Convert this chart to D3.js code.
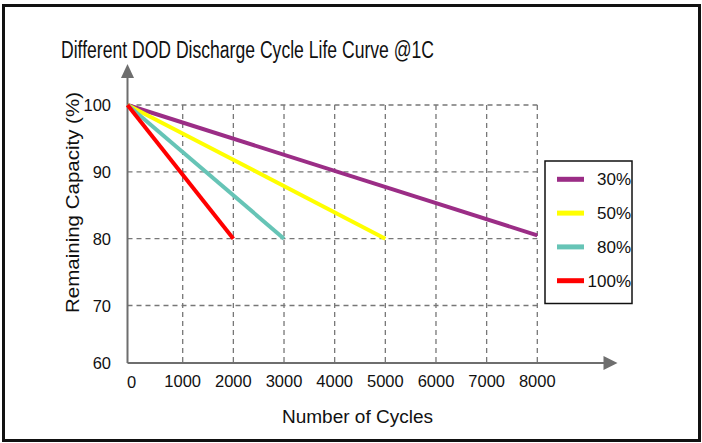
<!DOCTYPE html>
<html>
<head>
  <meta charset="utf-8">
  <title>DOD Cycle Life</title>
  <script src="https://d3js.org/d3.v7.min.js"></script>
  <style>
    body { margin: 0; background: #fff; }
    text { font-family: "Liberation Sans", Arial, sans-serif; fill: #111; }
  </style>
</head>
<body>

<svg></svg>

<script>

var xTicks = [0, 1000, 2000, 3000, 4000, 5000, 6000, 7000, 8000]
var yTicks = [60, 70, 80, 90, 100]

var dod = ['30%', '50%', '80%', '100%']
var colors = ['#9b2d86', '#ffff00', '#66c4b6', '#ff0000']

// [cycles, capacity]
var line30 = [[0, 100], [8000, 80.5]]
var line50 = [[0, 100], [5000, 80]]
var line80 = [[0, 100], [3000, 80]]
var line100 = [[0, 100], [2000, 80]]

var series = [line30, line50, line80, line100]

var width = 702, height = 443

var svg = d3.select('svg')
  .attr('width', width)
  .attr('height', height)

// outer frame
svg.append('rect')
  .attr('x', 3.5).attr('y', 5.5)
  .attr('width', 696).attr('height', 435)
  .attr('fill', 'none')
  .attr('stroke', '#111')
  .attr('stroke-width', 3)

// the picture's axes are not quite even, so piecewise scales
var x = d3.scaleLinear()
  .domain([0, 1000, 8000])
  .range([127.5, 182.7, 537.3])

var y = d3.scaleLinear()
  .domain([60, 70, 100])
  .range([363, 305.5, 105])

var grid = svg.append('g')
  .attr('stroke', '#777')
  .attr('stroke-width', 1.3)
  .attr('stroke-dasharray', '5,4')

grid.selectAll('.hgrid')
  .data(yTicks.filter((d) => d > 60))
  .enter()
  .append('line')
  .attr('x1', x(0)).attr('x2', x(8000))
  .attr('y1', (d) => y(d)).attr('y2', (d) => y(d))

grid.selectAll('.vgrid')
  .data(xTicks.filter((d) => d > 0))
  .enter()
  .append('line')
  .attr('x1', (d) => x(d)).attr('x2', (d) => x(d))
  .attr('y1', y(100)).attr('y2', y(60))

// axes with arrows
var axisColor = '#6e6e6e'
svg.append('line')
  .attr('x1', x(0)).attr('x2', x(0))
  .attr('y1', y(60)).attr('y2', 76)
  .attr('stroke', axisColor).attr('stroke-width', 2)
svg.append('path')
  .attr('d', 'M' + x(0) + ',64 l-6.5,14 l13,0 z')
  .attr('fill', axisColor)

svg.append('line')
  .attr('x1', x(0)).attr('x2', 605)
  .attr('y1', y(60)).attr('y2', y(60))
  .attr('stroke', axisColor).attr('stroke-width', 2)
svg.append('path')
  .attr('d', 'M617.5,' + y(60) + ' l-14,-7 l0,14 z')
  .attr('fill', axisColor)

// tick labels
svg.selectAll('.ylab')
  .data(yTicks)
  .enter()
  .append('text')
  .attr('x', 111)
  .attr('y', (d) => y(d) + 6)
  .attr('text-anchor', 'end')
  .style('font-size', '16.5px')
  .text((d) => d)

svg.selectAll('.xlab')
  .data(xTicks)
  .enter()
  .append('text')
  .attr('x', (d) => d === 0 ? x(d) + 4 : x(d))
  .attr('y', (d) => d === 0 ? 388 : 387)
  .attr('text-anchor', 'middle')
  .style('font-size', '16.5px')
  .text((d) => d)

// data lines
var line = d3.line()
  .x((d) => x(d[0]))
  .y((d) => y(d[1]))

svg.selectAll('.series')
  .data(series)
  .enter()
  .append('path')
  .attr('d', line)
  .attr('fill', 'none')
  .attr('stroke', (d, i) => colors[i])
  .attr('stroke-width', 4)

// titles
svg.append('text')
  .attr('x', 61).attr('y', 58)
  .attr('textLength', 373)
  .attr('lengthAdjust', 'spacingAndGlyphs')
  .style('font-size', '23px')
  .text('Different DOD Discharge Cycle Life Curve @1C')

svg.append('text')
  .attr('x', 282).attr('y', 423)
  .attr('textLength', 151)
  .attr('lengthAdjust', 'spacingAndGlyphs')
  .style('font-size', '17.5px')
  .text('Number of Cycles')

svg.append('text')
  .attr('transform', 'translate(79,313) rotate(-90)')
  .attr('textLength', 221)
  .attr('lengthAdjust', 'spacingAndGlyphs')
  .style('font-size', '18px')
  .text('Remaining Capacity (%)')

// legend
var legend = svg.append('g')
legend.append('rect')
  .attr('x', 545).attr('y', 161)
  .attr('width', 87).attr('height', 142.5)
  .attr('fill', '#fff')
  .attr('stroke', '#111')
  .attr('stroke-width', 1.5)

var items = legend.selectAll('.item')
  .data(dod)
  .enter()
  .append('g')
  .attr('transform', (d, i) => 'translate(0,' + (179.3 + i * 33.8) + ')')

items.append('line')
  .attr('x1', 557).attr('x2', 584)
  .attr('stroke', (d, i) => colors[i])
  .attr('stroke-width', 5)

items.append('text')
  .attr('x', 631).attr('y', 6)
  .attr('text-anchor', 'end')
  .style('font-size', '17px')
  .text((d) => d)

</script>

</body>
</html>
